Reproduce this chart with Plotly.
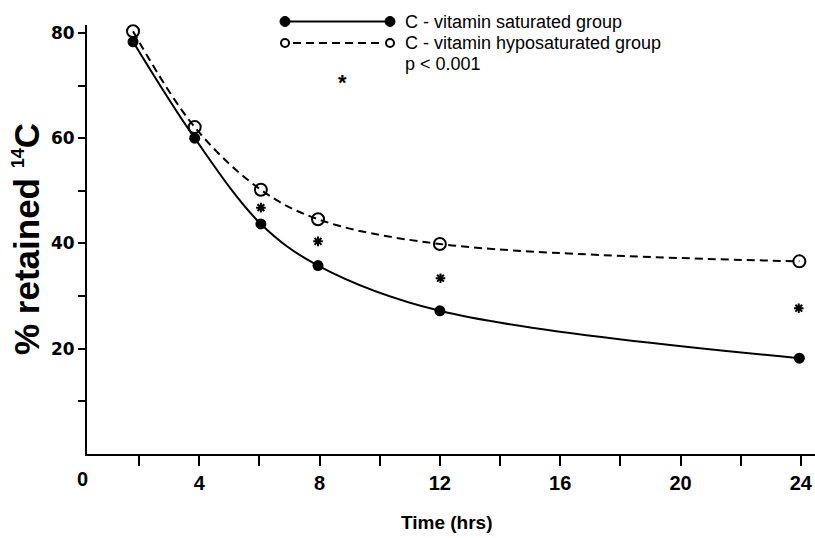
import plotly.graph_objects as go

# ---- data ----
hours = [1.8, 3.85, 6.05, 7.95, 12.0, 23.95]
saturated = [78.3, 60.0, 43.7, 35.8, 27.2, 18.2]
hyposaturated = [80.3, 62.1, 50.2, 44.6, 39.9, 36.6]
star_hours = [6.05, 7.95, 12.02, 23.93]
star_values = [46.8, 40.4, 33.4, 27.7]

x_ticks = [2, 4, 6, 8, 10, 12, 14, 16, 18, 20, 22, 24]
x_labels = ["", "4", "", "8", "", "12", "", "16", "", "20", "", "24"]
y_ticks = [10, 20, 30, 40, 50, 60, 70, 80]
y_labels = ["", "20", "", "40", "", "60", "", "80"]

legend_names = ["C - vitamin saturated group", "C - vitamin hyposaturated group", "p < 0.001"]

NARROW = "Liberation Sans Narrow, Arial Narrow, Liberation Sans, Arial, sans-serif"

W, H = 815, 538
L, R, T, B = 87, 0, 25, 84
PW, PH = W - L - R, H - T - B


def px(x):
    return (x - L) / PW


def py(y):
    return (H - B - y) / PH


fig = go.Figure()

fig.add_trace(go.Scatter(
    x=hours, y=hyposaturated, mode="lines+markers",
    line=dict(color="black", width=2, dash="8px,5px", shape="spline", smoothing=1),
    marker=dict(symbol="circle-open", size=12, color="black", line=dict(width=2, color="black")),
    showlegend=False, cliponaxis=False,
))
fig.add_trace(go.Scatter(
    x=hours, y=saturated, mode="lines+markers",
    line=dict(color="black", width=2, shape="spline", smoothing=1),
    marker=dict(symbol="circle", size=11, color="black"),
    showlegend=False, cliponaxis=False,
))
fig.add_trace(go.Scatter(
    x=star_hours, y=star_values, mode="markers",
    marker=dict(symbol="asterisk-open", size=8, color="black", line=dict(width=2, color="black")),
    showlegend=False,
))

shapes = []
annotations = []

# legend (manual, as in the original figure)
rows = [21.5, 43.0]
x_a, x_b = 285, 390
shapes.append(dict(type="line", xref="paper", yref="paper", x0=px(x_a), x1=px(x_b),
                   y0=py(rows[0]), y1=py(rows[0]), line=dict(color="black", width=2)))
shapes.append(dict(type="line", xref="paper", yref="paper", x0=px(x_a + 8), x1=px(x_b - 6),
                   y0=py(rows[1]), y1=py(rows[1]), line=dict(color="black", width=2, dash="8px,5px")))
for cx in (x_a, x_b):
    r = 5
    shapes.append(dict(type="circle", xref="paper", yref="paper",
                       x0=px(cx - r), x1=px(cx + r), y0=py(rows[0] + r), y1=py(rows[0] - r),
                       fillcolor="black", line=dict(color="black", width=1)))
    r = 4
    shapes.append(dict(type="circle", xref="paper", yref="paper",
                       x0=px(cx - r), x1=px(cx + r), y0=py(rows[1] + r), y1=py(rows[1] - r),
                       fillcolor="white", line=dict(color="black", width=2)))

for name, yy in zip(legend_names, [21.5, 43.0, 64.0]):
    annotations.append(dict(xref="paper", yref="paper", x=px(403), y=py(yy), text=name,
                            showarrow=False, xanchor="left", yanchor="middle",
                            font=dict(family=NARROW, size=18, color="black")))
annotations.append(dict(xref="paper", yref="paper", x=px(342), y=py(82), text="<b>*</b>",
                        showarrow=False, xanchor="center", yanchor="middle",
                        font=dict(family="Liberation Sans", size=22, color="black")))

# axis titles and the "0" origin label
annotations.append(dict(xref="paper", yref="paper", x=px(447), y=py(522), text="Time (hrs)",
                        showarrow=False, xanchor="center", yanchor="middle",
                        font=dict(family=NARROW, size=19, color="black", weight="bold")))
annotations.append(dict(xref="paper", yref="paper", x=px(26), y=py(239),
                        text="% retained <sup><span style='font-size:18px'>14</span></sup>C",
                        textangle=-90,
                        showarrow=False, xanchor="center", yanchor="middle",
                        font=dict(family="Liberation Sans", size=35, color="black", weight="bold")))
annotations.append(dict(xref="paper", yref="paper", x=px(82), y=py(479), text="0",
                        showarrow=False, xanchor="center", yanchor="middle",
                        font=dict(family="Liberation Sans", size=20, color="black", weight="bold")))

fig.update_layout(
    width=W, height=H,
    margin=dict(l=L, r=R, t=T, b=B),
    paper_bgcolor="white", plot_bgcolor="white",
    shapes=shapes, annotations=annotations,
    xaxis=dict(
        range=[0.27, 24.47], showgrid=False, zeroline=False, automargin=False,
        showline=True, linecolor="black", linewidth=2,
        ticks="outside", ticklen=10, tickwidth=2, tickcolor="black",
        tickvals=x_ticks, ticktext=x_labels,
        tickfont=dict(family="Liberation Sans", size=20, color="black", weight="bold"),
    ),
    yaxis=dict(
        range=[0, 81.5], showgrid=False, zeroline=False, automargin=False,
        showline=True, linecolor="black", linewidth=2,
        ticks="outside", ticklen=7, tickwidth=2, tickcolor="black",
        tickvals=y_ticks, ticktext=y_labels,
        tickfont=dict(family="DejaVu Sans", size=17, color="black", weight="bold"),
    ),
)

fig.write_html("out.html", config={"displayModeBar": False},
               post_script="document.body.style.margin='0';document.body.style.overflow='hidden';")
